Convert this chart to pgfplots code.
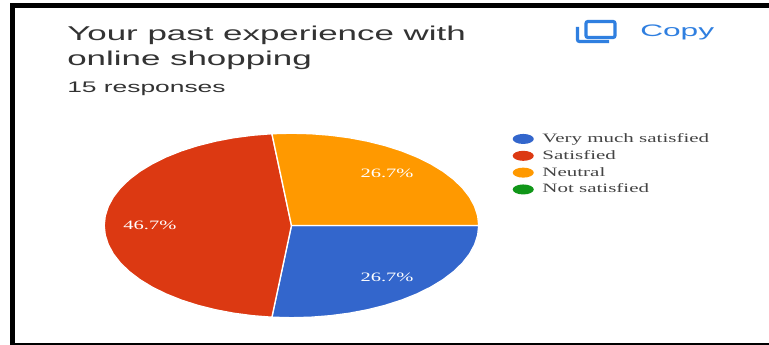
\documentclass[border=0pt]{standalone}
\usepackage{fontspec}
\usepackage{graphicx}
\usepackage{pgfplots}
\pgfplotsset{compat=1.18}
\setmainfont{Liberation Sans}
\newfontfamily\legendfont{Liberation Serif}
\definecolor{sliceblue}{HTML}{3366CC}
\definecolor{slicered}{HTML}{DC3912}
\definecolor{sliceorange}{HTML}{FF9900}
\definecolor{slicegreen}{HTML}{109618}
\definecolor{copyblue}{HTML}{2F7FE0}
\definecolor{heading}{HTML}{333333}
\definecolor{legendgray}{HTML}{444444}
% Horizontal stretch for the wide lettering
\newcommand{\wide}[2]{\scalebox{#1}[1]{#2}}
\newcommand{\legtext}[1]{\legendfont\color{legendgray}\wide{1.64}{#1}}
\newcommand{\pct}[1]{\legendfont\color{white}\wide{1.6}{#1}}
\begin{document}
\begin{tikzpicture}[x=0.75pt,y=-0.75pt]
  % Canvas and black frame
  \fill[white] (0,0) rectangle (769,345);
  \fill[black] (10,3) rectangle (769,8);
  \fill[black] (10,3) rectangle (15,345);
  \fill[black] (10,343) rectangle (769,345);
  % Heading
  \node[anchor=base west,inner sep=0pt,text=heading,font=\fontsize{15}{18}\selectfont] at (67,40.5) {\wide{1.746}{Your past experience with}};
  \node[anchor=base west,inner sep=0pt,text=heading,font=\fontsize{15}{18}\selectfont] at (67,65.5) {\wide{1.746}{online shopping}};
  \node[anchor=base west,inner sep=0pt,text=heading,font=\fontsize{11.5}{14}\selectfont] at (67,93) {\wide{1.72}{15 responses}};
  % Copy button
  \draw[copyblue,line width=2.4pt,rounded corners=1.5pt] (586,21.5) rectangle (615,37.5);
  \draw[copyblue,line width=2.4pt,rounded corners=1.5pt] (577.5,27) -- (577.5,41.5) -- (609,41.5);
  \node[anchor=base west,inner sep=0pt,text=copyblue,font=\fontsize{12.5}{15}\selectfont] at (640,37) {\wide{1.9}{Copy}};
  \begin{axis}[
    at={(218.6pt,-169.1pt)},anchor=center,
    width=280.9pt,height=138.4pt,scale only axis,
    xmin=-1,xmax=1,ymin=-1,ymax=1,
    hide axis,clip=false,
    legend cell align=left,
    legend image code/.code={\fill[#1,draw=none] (7.9pt,0pt) ellipse (7.9pt and 3.75pt);\path[draw=none,fill=none] (0pt,0pt) -- (21.7pt,0pt);},
    legend style={draw=none,fill=none,font=\fontsize{9.6}{10}\selectfont,
      at={(1.09,0.832)},anchor=west,inner sep=0pt,
      row sep=3.2pt,
      nodes={inner sep=0.6pt}},
  ]
    % Very much satisfied: 26.7%
    \addplot[fill=sliceblue,draw=white,line width=1pt] coordinates {
      (0,0) (-.1045,-.9945) (0,-1) (.1045,-.9945) (.2079,-.9781) (.3090,-.9511)
      (.4067,-.9135) (.5,-.8660) (.5878,-.8090) (.6691,-.7431) (.7431,-.6691)
      (.8090,-.5878) (.8660,-.5) (.9135,-.4067) (.9511,-.3090) (.9781,-.2079)
      (.9945,-.1045) (1,0) (0,0)};
    % Satisfied: 46.7%
    \addplot[fill=slicered,draw=white,line width=1pt] coordinates {
      (0,0) (-.1045,.9945) (-.2079,.9781) (-.3090,.9511) (-.4067,.9135) (-.5,.8660)
      (-.5878,.8090) (-.6691,.7431) (-.7431,.6691) (-.8090,.5878) (-.8660,.5)
      (-.9135,.4067) (-.9511,.3090) (-.9781,.2079) (-.9945,.1045) (-1,0)
      (-.9945,-.1045) (-.9781,-.2079) (-.9511,-.3090) (-.9135,-.4067) (-.8660,-.5)
      (-.8090,-.5878) (-.7431,-.6691) (-.6691,-.7431) (-.5878,-.8090) (-.5,-.8660)
      (-.4067,-.9135) (-.3090,-.9511) (-.2079,-.9781) (-.1045,-.9945) (0,0)};
    % Neutral: 26.7%
    \addplot[fill=sliceorange,draw=white,line width=1pt] coordinates {
      (0,0) (1,0) (.9945,.1045) (.9781,.2079) (.9511,.3090) (.9135,.4067) (.8660,.5)
      (.8090,.5878) (.7431,.6691) (.6691,.7431) (.5878,.8090) (.5,.8660) (.4067,.9135)
      (.3090,.9511) (.2079,.9781) (.1045,.9945) (0,1) (-.1045,.9945) (0,0)};
    % Not satisfied: no responses
    \addplot[fill=slicegreen,draw=none] coordinates {(0,0)};
    \legend{\legtext{Very much satisfied},\legtext{Satisfied},\legtext{Neutral},\legtext{Not satisfied}}
    \node[font=\fontsize{9.6}{10}\selectfont] at (axis cs:0.51,0.565) {\pct{26.7\%}};
    \node[font=\fontsize{9.6}{10}\selectfont] at (axis cs:0.51,-0.557) {\pct{26.7\%}};
    \node[font=\fontsize{9.6}{10}\selectfont] at (axis cs:-0.756,0) {\pct{46.7\%}};
  \end{axis}
\end{tikzpicture}
\end{document}
